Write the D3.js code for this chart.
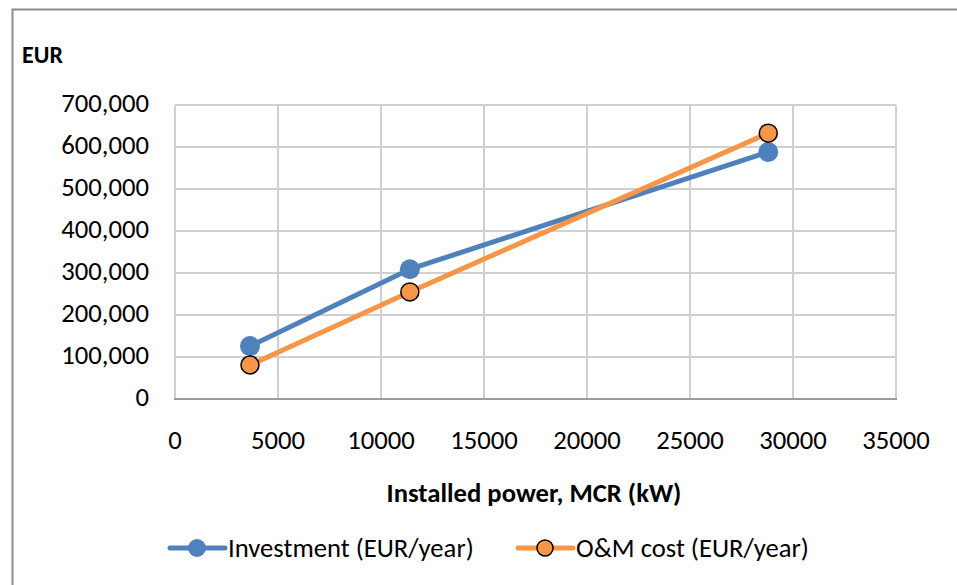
<!DOCTYPE html>
<html>
<head>
<meta charset="utf-8">
<script src="https://cdn.jsdelivr.net/npm/d3@7"></script>
<style>
  body { margin: 0; background: #fff; }
  svg text { font-family: Carlito, Calibri, "Liberation Sans Narrow", "Open Sans", sans-serif; fill: #000; }
</style>
</head>
<body>
<div id="root"></div>
<script>
// data
const power = [3640, 11400, 28800];
const investment = [126000, 309000, 588000];
const omCost = [81000, 255000, 633000];
const seriesNames = ['Investment (EUR/year)', 'O&M cost (EUR/year)'];
const xTicks = [0, 5000, 10000, 15000, 20000, 25000, 30000, 35000];
const yTicks = [0, 100000, 200000, 300000, 400000, 500000, 600000, 700000];

const W = 957, H = 585;
const BLUE = '#4f81bd', ORANGE = '#f79646';
const FS = 26.67; // 20pt

const svg = d3.select('#root').append('svg')
  .attr('width', W).attr('height', H);

// chart frame (runs off the right and bottom edge)
svg.append('rect')
  .attr('x', 12.5).attr('y', 9.5)
  .attr('width', W).attr('height', H)
  .attr('fill', 'none').attr('stroke', '#8c8c8c').attr('stroke-width', 2);

const x = d3.scaleLinear().domain([0, 35000]).range([175, 896]);
const y = d3.scaleLinear().domain([0, 700000]).range([399, 105]);

// gridlines
svg.append('g').selectAll('line').data(yTicks.slice(1)).join('line')
  .attr('x1', x(0)).attr('x2', x(35000))
  .attr('y1', d => y(d)).attr('y2', d => y(d))
  .attr('stroke', '#d0d0d0').attr('stroke-width', 2);
svg.append('g').selectAll('line').data(xTicks).join('line')
  .attr('x1', d => x(d)).attr('x2', d => x(d))
  .attr('y1', y(0)).attr('y2', y(700000))
  .attr('stroke', '#d0d0d0').attr('stroke-width', 2);

// base axis line
svg.append('line')
  .attr('x1', x(0) - 1).attr('x2', x(35000) + 1)
  .attr('y1', y(0)).attr('y2', y(0))
  .attr('stroke', '#9a9a9a').attr('stroke-width', 2);

// tick labels
const fmt = d3.format(',');
svg.append('g').selectAll('text').data(yTicks).join('text')
  .attr('x', 149).attr('y', d => y(d) + 7)
  .attr('text-anchor', 'end').attr('font-size', FS)
  .text(d => fmt(d));
svg.append('g').selectAll('text').data(xTicks).join('text')
  .attr('x', d => x(d)).attr('y', 449)
  .attr('text-anchor', 'middle').attr('font-size', FS)
  .text(d => d);

// titles
svg.append('text').attr('x', 22).attr('y', 63)
  .attr('font-size', 24).attr('font-weight', 'bold').text('EUR');
svg.append('text').attr('x', 534).attr('y', 502)
  .attr('text-anchor', 'middle')
  .attr('font-size', FS).attr('font-weight', 'bold').text('Installed power, MCR (kW)');

// series
const line = d3.line().x(d => x(d[0])).y(d => y(d[1]));
const series = [
  { name: seriesNames[0], color: BLUE, values: investment, r: 10, stroke: 'none' },
  { name: seriesNames[1], color: ORANGE, values: omCost, r: 9, stroke: '#000' }
];

series.forEach(s => {
  const pts = power.map((p, i) => [p, s.values[i]]);
  svg.append('path').datum(pts)
    .attr('d', line).attr('fill', 'none')
    .attr('stroke', s.color).attr('stroke-width', 5)
    .attr('stroke-linejoin', 'round');
  svg.append('g').selectAll('circle').data(pts).join('circle')
    .attr('cx', d => x(d[0])).attr('cy', d => y(d[1]))
    .attr('r', s.r).attr('fill', s.color)
    .attr('stroke', s.stroke).attr('stroke-width', 1.5);
});

// legend
const legendX = [170, 518];
series.forEach((s, i) => {
  const g = svg.append('g').attr('transform', `translate(${legendX[i]},548)`);
  g.append('line').attr('x1', 0).attr('x2', 55)
    .attr('stroke', s.color).attr('stroke-width', 5).attr('stroke-linecap', 'round');
  g.append('circle').attr('cx', 27).attr('r', s.r - 1)
    .attr('fill', s.color).attr('stroke', s.stroke).attr('stroke-width', 1.5);
  g.append('text').attr('x', 58).attr('y', 9).attr('font-size', FS).text(s.name);
});
</script>
</body>
</html>
